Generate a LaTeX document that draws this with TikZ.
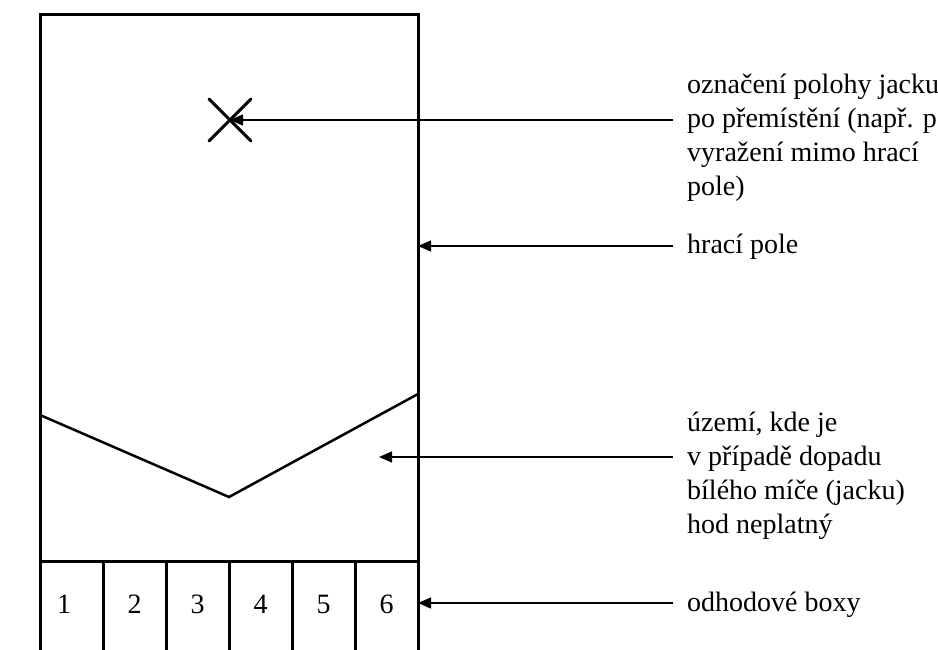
\documentclass[tikz,border=0pt]{standalone}
\usepackage{fontspec}
\setmainfont{Liberation Serif}
\usetikzlibrary{arrows.meta}
\begin{document}
\begin{tikzpicture}[x=1pt,y=-1pt,
  frame/.style={line width=3pt, line join=miter},
  pointer/.style={line width=1.3pt, -{Triangle[length=13pt,width=11pt]}},
  caption/.style={font=\fontsize{28}{34}\selectfont, anchor=base west, inner sep=0pt, align=left},
  digit/.style={font=\fontsize{28}{34}\selectfont, inner sep=0pt}]
\useasboundingbox (0,0) rectangle (938,650);

% playing field outline (runs past the lower edge)
\coordinate (tl) at (40,15);
\coordinate (tr) at (418,15);
\coordinate (bl) at (40,680);
\coordinate (br) at (418,680);
\draw[frame] (bl) -- (tl) -- (tr) -- (br);

% row of throwing boxes
\coordinate (ml) at (40,561);
\coordinate (mr) at (418,561);
\draw[frame] (ml) -- (mr);
\foreach \i in {1,...,5} {
  \draw[frame] ({40+63*\i},561) -- ({40+63*\i},680);
}
\foreach \i/\xc in {1/64,2/134.5,3/197.5,4/260.5,5/323.5,6/386.5} {
  \node[digit] (box\i) at (\xc,604) {\i};
}

% invalid-throw zone boundary
\coordinate (vl) at (40,415);
\coordinate (vm) at (229,497);
\coordinate (vr) at (418,394);
\draw[line width=2.5pt] (vl) -- (vm) -- (vr);

% jack position mark
\coordinate (jack) at (230,120);
\draw[line width=3pt, line cap=round] (209,99) -- (251,141) (209,141) -- (251,99);

% captions (base anchor sits on the last line)
\node[caption] (c1) at (687,196) {označení polohy jacku\\po přemístění (např. p\\vyražení mimo hrací\\pole)};
\node[caption] (c2) at (687,254) {hrací pole};
\node[caption] (c3) at (687,533) {území, kde je\\v případě dopadu\\bílého míče (jacku)\\hod neplatný};
\node[caption] (c4) at (687,611) {odhodové boxy};

% leader arrows
\coordinate (s1) at (673,120);
\coordinate (s2) at (673,246);
\coordinate (s3) at (673,457);
\coordinate (s4) at (673,603);
\coordinate (t2) at (418,246);
\coordinate (t3) at (379,457);
\coordinate (t4) at (418,603);
\draw[pointer] (s1) -- (jack);
\draw[pointer] (s2) -- (t2);
\draw[pointer] (s3) -- (t3);
\draw[pointer] (s4) -- (t4);
\end{tikzpicture}
\end{document}
